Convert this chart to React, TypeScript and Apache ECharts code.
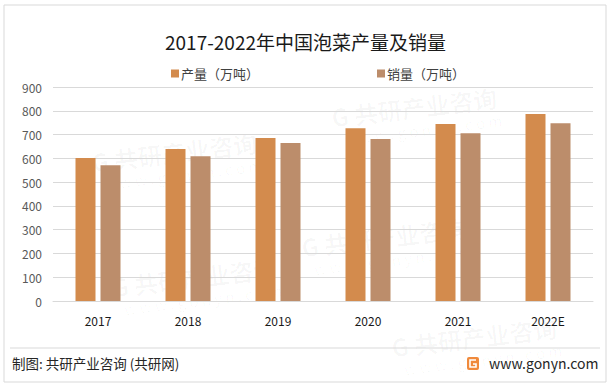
import React, { useEffect, useRef } from "react";
import * as echarts from "echarts";

const categories = ["2017", "2018", "2019", "2020", "2021", "2022E"];
const production = [601, 639, 685, 727, 744, 786];
const sales = [571, 609, 664, 681, 706, 748];
const seriesNames = ["产量（万吨）", "销量（万吨）"];
const titleText = "2017-2022年中国泡菜产量及销量";
const sourceText = "制图: 共研产业咨询 (共研网)";
const siteText = "www.gonyn.com";

const FONT = "'Noto Sans CJK SC', 'Noto Sans', sans-serif";

export default function App() {
  const ref = useRef<HTMLDivElement>(null);
  useEffect(() => {
    document.body.style.margin = "0";
    const chart = echarts.init(ref.current!, null, { renderer: "svg" });
    const watermarks: any[] = [];
    const wmPos = [
      [90, 150], [330, 105], [110, 275], [300, 235], [390, 335],
    ];
    wmPos.forEach(([x, y]) => {
      watermarks.push({
        type: "group",
        x,
        y,
        rotation: 0.12,
        silent: true,
        children: [
          { type: "text", x: 0, y: 0, style: { text: "G 共研产业咨询", fill: "rgba(0,0,0,0.03)", font: `bold 24px ${FONT}` } },
          { type: "text", x: 10, y: 28, style: { text: "w w w . g o n y n . c o m", fill: "rgba(0,0,0,0.03)", font: `15px ${FONT}` } },
        ],
      });
    });
    chart.setOption({
      animation: false,
      backgroundColor: "#ffffff",
      textStyle: { fontFamily: FONT },
      title: {
        text: titleText,
        left: "center",
        top: 27,
        textStyle: { fontSize: 19, fontWeight: "normal", color: "#1a1a1a", fontFamily: FONT },
      },
      legend: [
        {
          data: [seriesNames[0]],
          left: 166,
          top: 62,
          itemWidth: 8,
          itemHeight: 8,
          itemGap: 4,
          icon: "rect",
          textStyle: { fontSize: 13, color: "#404040", fontFamily: FONT, padding: [0, 0, 0, -3] },
        },
        {
          data: [seriesNames[1]],
          left: 372,
          top: 62,
          itemWidth: 8,
          itemHeight: 8,
          icon: "rect",
          textStyle: { fontSize: 13, color: "#404040", fontFamily: FONT, padding: [0, 0, 0, -3] },
        },
      ],
      grid: { left: 53, right: 18, top: 87, bottom: 86, containLabel: false },
      xAxis: {
        type: "category",
        data: categories,
        axisLine: { show: true, lineStyle: { color: "#d9d9d9" } },
        axisTick: { show: false },
        axisLabel: { fontSize: 12, color: "#1a1a1a", margin: 13, fontFamily: FONT },
      },
      yAxis: {
        type: "value",
        min: 0,
        max: 900,
        interval: 100,
        axisLine: { show: false },
        axisTick: { show: false },
        splitLine: { lineStyle: { color: "#d9d9d9" } },
        axisLabel: { fontSize: 12, color: "#595959", margin: 11, fontFamily: FONT },
      },
      series: [
        {
          name: seriesNames[0],
          type: "bar",
          data: production,
          barWidth: 20,
          barGap: "25%",
          itemStyle: { color: "#D38B4D" },
        },
        {
          name: seriesNames[1],
          type: "bar",
          data: sales,
          barWidth: 20,
          itemStyle: { color: "#BC8D6B" },
        },
      ],
      graphic: [
        ...watermarks,
        {
          type: "rect",
          shape: { x: 4, y: 5, width: 602, height: 377 },
          style: { fill: "none", stroke: "#d9d9d9", lineWidth: 1 },
          silent: true,
        },
        {
          type: "line",
          shape: { x1: 10, y1: 348, x2: 600, y2: 348 },
          style: { stroke: "#d9d9d9", lineWidth: 1 },
        },
        {
          type: "text",
          x: 12,
          y: 363,
          style: { text: sourceText, font: `13.5px ${FONT}`, fill: "#262626", verticalAlign: "middle" },
        },
        {
          type: "rect",
          shape: { x: 467, y: 357, width: 12, height: 13, r: 2 },
          style: { fill: "#F08A3C" },
        },
        {
          type: "polyline",
          shape: { points: [[476, 360], [470, 360], [470, 367], [476, 367], [476, 364], [473, 364]] },
          style: { stroke: "#ffffff", lineWidth: 1.6, fill: "none" },
        },
        {
          type: "text",
          x: 489,
          y: 363,
          style: { text: siteText, font: `14px ${FONT}`, fill: "#262626", verticalAlign: "middle" },
        },
      ],
    });
    return () => chart.dispose();
  }, []);
  return <div ref={ref} style={{ position: "absolute", left: 0, top: 0, width: 611, height: 387 }} />;
}
